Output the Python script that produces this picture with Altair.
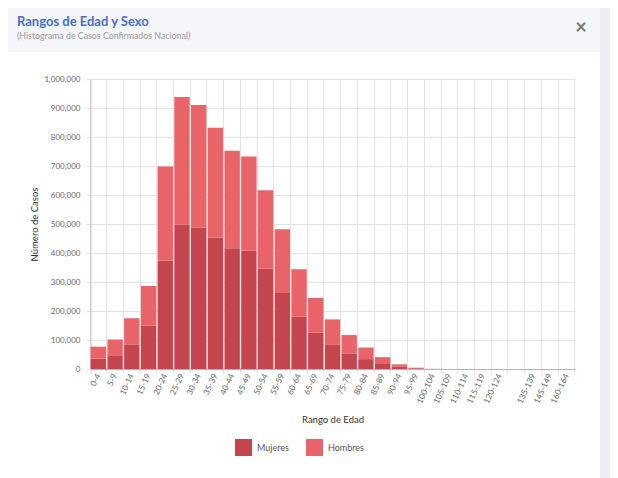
import altair as alt
import pandas as pd

rangos = ["0-4", "5-9", "10-14", "15-19", "20-24", "25-29", "30-34", "35-39",
          "40-44", "45-49", "50-54", "55-59", "60-64", "65-69", "70-74", "75-79",
          "80-84", "85-89", "90-94", "95-99", "100-104", "105-109", "110-114",
          "115-119", "120-124", " ", "135-139", "145-149", "160-164"]
mujeres = [36000, 47000, 85000, 149000, 373000, 497000, 487000, 453000,
           416000, 408000, 346000, 262000, 180000, 125000, 83000, 54000,
           34000, 20000, 9000, 2500, 300, 80, 40, 30, 20, 0, 5, 5, 5]
hombres = [41000, 55000, 90000, 137000, 325000, 441000, 423000, 379000,
           337000, 325000, 270000, 220000, 164000, 120000, 88000, 63000,
           40000, 21000, 7000, 2000, 200, 60, 30, 20, 20, 0, 5, 5, 5]
sexos = ["Mujeres", "Hombres"]
colores = ["#c4454d", "#e96468"]
y_ticks = [0, 100000, 200000, 300000, 400000, 500000, 600000, 700000,
           800000, 900000, 1000000]

rows = []
for r, m, h in zip(rangos, mujeres, hombres):
    rows.append({"Rango": r, "Sexo": "Mujeres", "Casos": m, "orden": 0})
    rows.append({"Rango": r, "Sexo": "Hombres", "Casos": h, "orden": 1})
df = pd.DataFrame(rows)

FONT = "Lato"
GRID = "#e2e2e2"
one = pd.DataFrame({"k": [0]})

header = alt.Chart(one).mark_rect(color="#f4f6fa").encode(
    x=alt.value(-82), x2=alt.value(510), y=alt.value(-71), y2=alt.value(-27)
)
strip = alt.Chart(one).mark_rect(color="#eceef2").encode(
    x=alt.value(510), x2=alt.value(520), y=alt.value(-71), y2=alt.value(399)
)
close = alt.Chart(one).mark_text(
    text="×", font=FONT, fontSize=20, fontWeight="bold", color="#7a7a7a",
    align="center", baseline="middle"
).encode(x=alt.value(491), y=alt.value(-51))

bars = alt.Chart(df).mark_bar().encode(
    x=alt.X("Rango:N", sort=rangos,
            scale=alt.Scale(paddingInner=0.08, paddingOuter=0.04),
            axis=alt.Axis(title="Rango de Edad", labelAngle=-65, tickBand="extent",
                          grid=True, gridColor=GRID, tickColor=GRID, tickSize=4,
                          labelFontSize=8.3, labelColor="#666", labelFont=FONT,
                          labelPadding=1, domainColor="#b5b5b5",
                          titleFont=FONT, titleFontSize=9.5, titleFontWeight="normal",
                          titleColor="#333", titlePadding=10)),
    y=alt.Y("Casos:Q", stack="zero",
            scale=alt.Scale(domain=[0, 1000000], nice=False),
            axis=alt.Axis(title="Número de Casos", format=",d", values=y_ticks,
                          gridColor=GRID, tickColor=GRID, tickSize=4,
                          labelFontSize=8, labelColor="#666", labelFont=FONT,
                          labelPadding=6, domainColor="#d0d0d0",
                          titleFont=FONT, titleFontSize=9.5, titleFontWeight="normal",
                          titleColor="#333", titlePadding=4)),
    color=alt.Color("Sexo:N", scale=alt.Scale(domain=sexos, range=colores),
                    legend=alt.Legend(title=None, orient="none", legendX=145,
                                      legendY=360, direction="horizontal",
                                      symbolType="square", symbolSize=289,
                                      symbolStrokeWidth=0, symbolOpacity=1,
                                      labelFont=FONT, labelFontSize=9,
                                      labelColor="#555", labelOffset=5,
                                      columnPadding=17)),
    order=alt.Order("orden:Q"),
)

chart = alt.layer(header, strip, close, bars).properties(
    width=485, height=290,
    autosize=alt.AutoSizeParams(type="none"),
    padding={"left": 82, "top": 71, "right": 35, "bottom": 109},
    background="white",
    title=alt.TitleParams(
        text="Rangos de Edad y Sexo",
        subtitle="(Histograma de Casos Confirmados Nacional)",
        anchor="start", frame="group", dx=-73, offset=0, dy=33,
        font=FONT, fontSize=13, fontWeight="bold", color="#4a6cc4",
        subtitleFont=FONT, subtitleFontSize=8.8, subtitleColor="#999",
        subtitlePadding=3,
    ),
).configure_view(stroke=None)

chart.save("out.html", embed_options={"renderer": "svg", "actions": False})
